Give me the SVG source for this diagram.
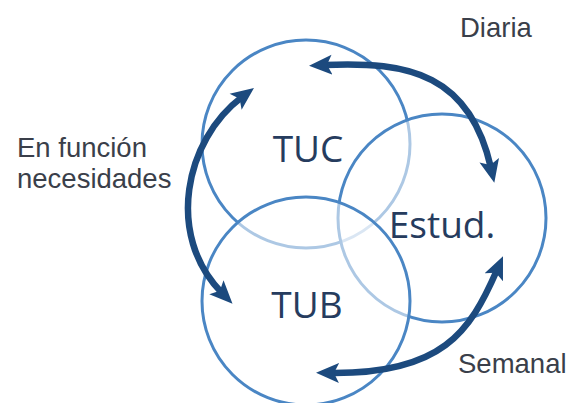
<svg xmlns="http://www.w3.org/2000/svg" width="571" height="403" viewBox="0 0 571 403">
<defs>
<style>
.ring{fill:#ffffff;fill-opacity:0.55;stroke:#4a86c4;stroke-width:3}
.node{font-family:"Open Sans","Liberation Sans",sans-serif;font-size:37px;fill:#263c5e;text-anchor:middle}
.lbl{font-family:"Liberation Sans",Arial,sans-serif;font-size:27.5px;fill:#3a3f4a}
.arr{fill:none;stroke:#1c4a7e;stroke-width:6.5;marker-start:url(#ah);marker-end:url(#ah)}
</style>
<marker id="ah" markerUnits="userSpaceOnUse" markerWidth="24" markerHeight="22" viewBox="0 0 24 22" refX="8" refY="11" orient="auto-start-reverse">
<path d="M0,1 L23,11 L0,21 L5,11 z" fill="#1c4a7e"/>
</marker>
</defs>
<rect width="571" height="403" fill="#ffffff"/>
<g id="TUC"><circle class="ring" cx="306" cy="144" r="104"/></g>
<g id="Estud"><circle class="ring" cx="442" cy="218" r="104"/></g>
<g id="TUB"><circle class="ring" cx="306" cy="301" r="104"/></g>
<g id="labels-nodes">
<text class="node" x="308" y="162">TUC</text>
<text class="node" x="442" y="238">Estud.</text>
<text class="node" x="307" y="318">TUB</text>
</g>
<g id="connectors">
<path class="arr" d="M324,65 C410,61 470,75 491,168"/>
<path class="arr" d="M242,97 C185,140 165,235 222,293"/>
<path class="arr" d="M497,270 C470,332 442,374 331,373"/>
</g>
<g id="edge-labels">
<text class="lbl" x="460" y="37">Diaria</text>
<text class="lbl" x="458" y="373">Semanal</text>
<text class="lbl" x="17" y="157">En función</text>
<text class="lbl" x="17" y="188">necesidades</text>
</g>
</svg>
